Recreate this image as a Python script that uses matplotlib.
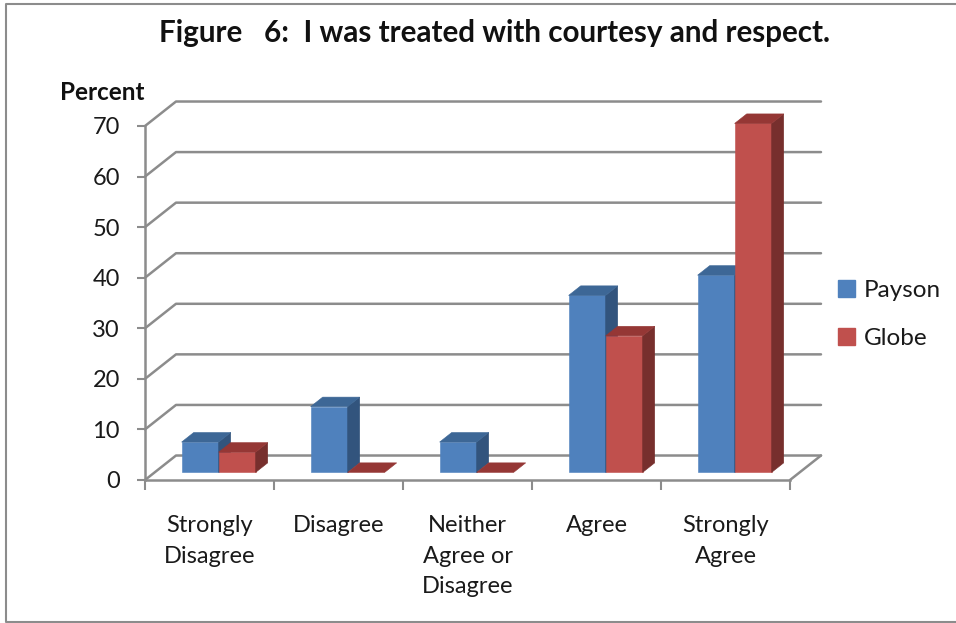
#!/usr/bin/env python3
"""Excel style pseudo-3D clustered columns: courtesy and respect survey."""

import matplotlib

matplotlib.use("Agg")

import matplotlib.pyplot as plt
from matplotlib.lines import Line2D
from matplotlib.patches import Patch

categories = ["Strongly\nDisagree", "Disagree", "Neither\nAgree or\nDisagree", "Agree", "Strongly\nAgree"]
payson = [6, 13, 6, 35, 39]
globe = [4, 0, 0, 27, 69]
y_ticks = [0, 10, 20, 30, 40, 50, 60, 70]

W, H = 956, 623
GRID = "#8c8c8c"
TEXT = "#1a1a1a"
BLUE = ("#4f81bd", "#3d6796", "#32547d")
RED = ("#c0504d", "#953735", "#772f2d")

# depth of the floor, in data units
DEPTH_X = 31 / 129
DEPTH_Y = 24.5 / 5.06
# where a bar sits inside that depth
BAR_FRONT = 0.31
BAR_BACK = 0.70
BAR_WIDTH = 37 / 129
BAR_GAP = 27 / 129

plt.rcParams["font.family"] = ["Lato", "DejaVu Sans"]


def draw_bar(axis, left, value, colors):
    dx0, dy0 = DEPTH_X * BAR_FRONT, DEPTH_Y * BAR_FRONT
    dx1, dy1 = DEPTH_X * BAR_BACK, DEPTH_Y * BAR_BACK
    x0, x1 = left + dx0, left + dx0 + BAR_WIDTH
    back0, back1 = left + dx1, left + dx1 + BAR_WIDTH
    top, base = value + dy0, dy0
    kwargs = {"clip_on": False, "linewidth": 0.4, "zorder": 3}
    if value > 0:
        axis.fill([x0, x1, x1, x0], [base, base, top, top], color=colors[0], **kwargs)
        axis.fill([x1, back1, back1, x1], [base, dy1, value + dy1, top], color=colors[2], **kwargs)
    axis.fill([x0, x1, back1, back0], [top, top, value + dy1, value + dy1], color=colors[1], **kwargs)


figure = plt.figure(figsize=(W / 100, H / 100), dpi=100)
axis = figure.add_axes([145 / W, 1 - 480 / H, 645 / W, 354 / H])
axis.set_xlim(0, len(categories))
axis.set_ylim(0, 70)
axis.patch.set_alpha(0)

for side in ("top", "right"):
    axis.spines[side].set_visible(False)
for side in ("left", "bottom"):
    axis.spines[side].set_color(GRID)
    axis.spines[side].set_linewidth(1.8)

axis.set_yticks(y_ticks)
axis.tick_params(axis="y", length=6, width=1.5, color=GRID, labelsize=17, labelcolor=TEXT, pad=12)
axis.set_xticks(range(len(categories) + 1))
axis.set_xticklabels([])
axis.tick_params(axis="x", which="major", length=7, width=1.5, color=GRID)
axis.set_xticks([i + 0.5 for i in range(len(categories))], categories, minor=True, linespacing=1.58)
axis.tick_params(axis="x", which="minor", length=0, labelsize=17, labelcolor=TEXT, pad=25)

# back wall gridlines, side wall diagonals and floor edge
line_style = {"color": GRID, "linewidth": 1.8, "clip_on": False, "zorder": 1, "solid_capstyle": "round"}
for tick in y_ticks:
    axis.add_line(Line2D([0, DEPTH_X, len(categories) + DEPTH_X],
                         [tick, tick + DEPTH_Y, tick + DEPTH_Y], **line_style))
axis.add_line(Line2D([len(categories), len(categories) + DEPTH_X], [0, DEPTH_Y], **line_style))

for index in range(len(categories)):
    left = index + BAR_GAP
    draw_bar(axis, left, payson[index], BLUE)
    draw_bar(axis, left + BAR_WIDTH, globe[index], RED)

figure.text(494 / W, 1 - 33 / H, "Figure   6:  I was treated with courtesy and respect.",
            ha="center", va="center", fontsize=21.3, fontweight="bold", color="#111111")
figure.text(102 / W, 1 - 92 / H, "Percent", ha="center", va="center", fontsize=17.5, fontweight="bold", color="#111111")

handles = [Patch(color=BLUE[0], label="Payson"), Patch(color=RED[0], label="Globe")]
figure.legend(handles=handles, loc="center left", bbox_to_anchor=(816 / W, 1 - 314.5 / H), frameon=False,
              fontsize=17.5, labelcolor=TEXT, handlelength=0.7, handleheight=0.7, handletextpad=0.35, labelspacing=1.15)

# chart frame: open on the right side
frame = {"color": "#8c8c8c", "linewidth": 1.5, "transform": figure.transFigure}
figure.add_artist(Line2D([1, 5.5 / W, 5.5 / W, 1], [1 - 4 / H, 1 - 4 / H, 1 - 622 / H, 1 - 622 / H], **frame))

figure.savefig("out.png", dpi=100)
